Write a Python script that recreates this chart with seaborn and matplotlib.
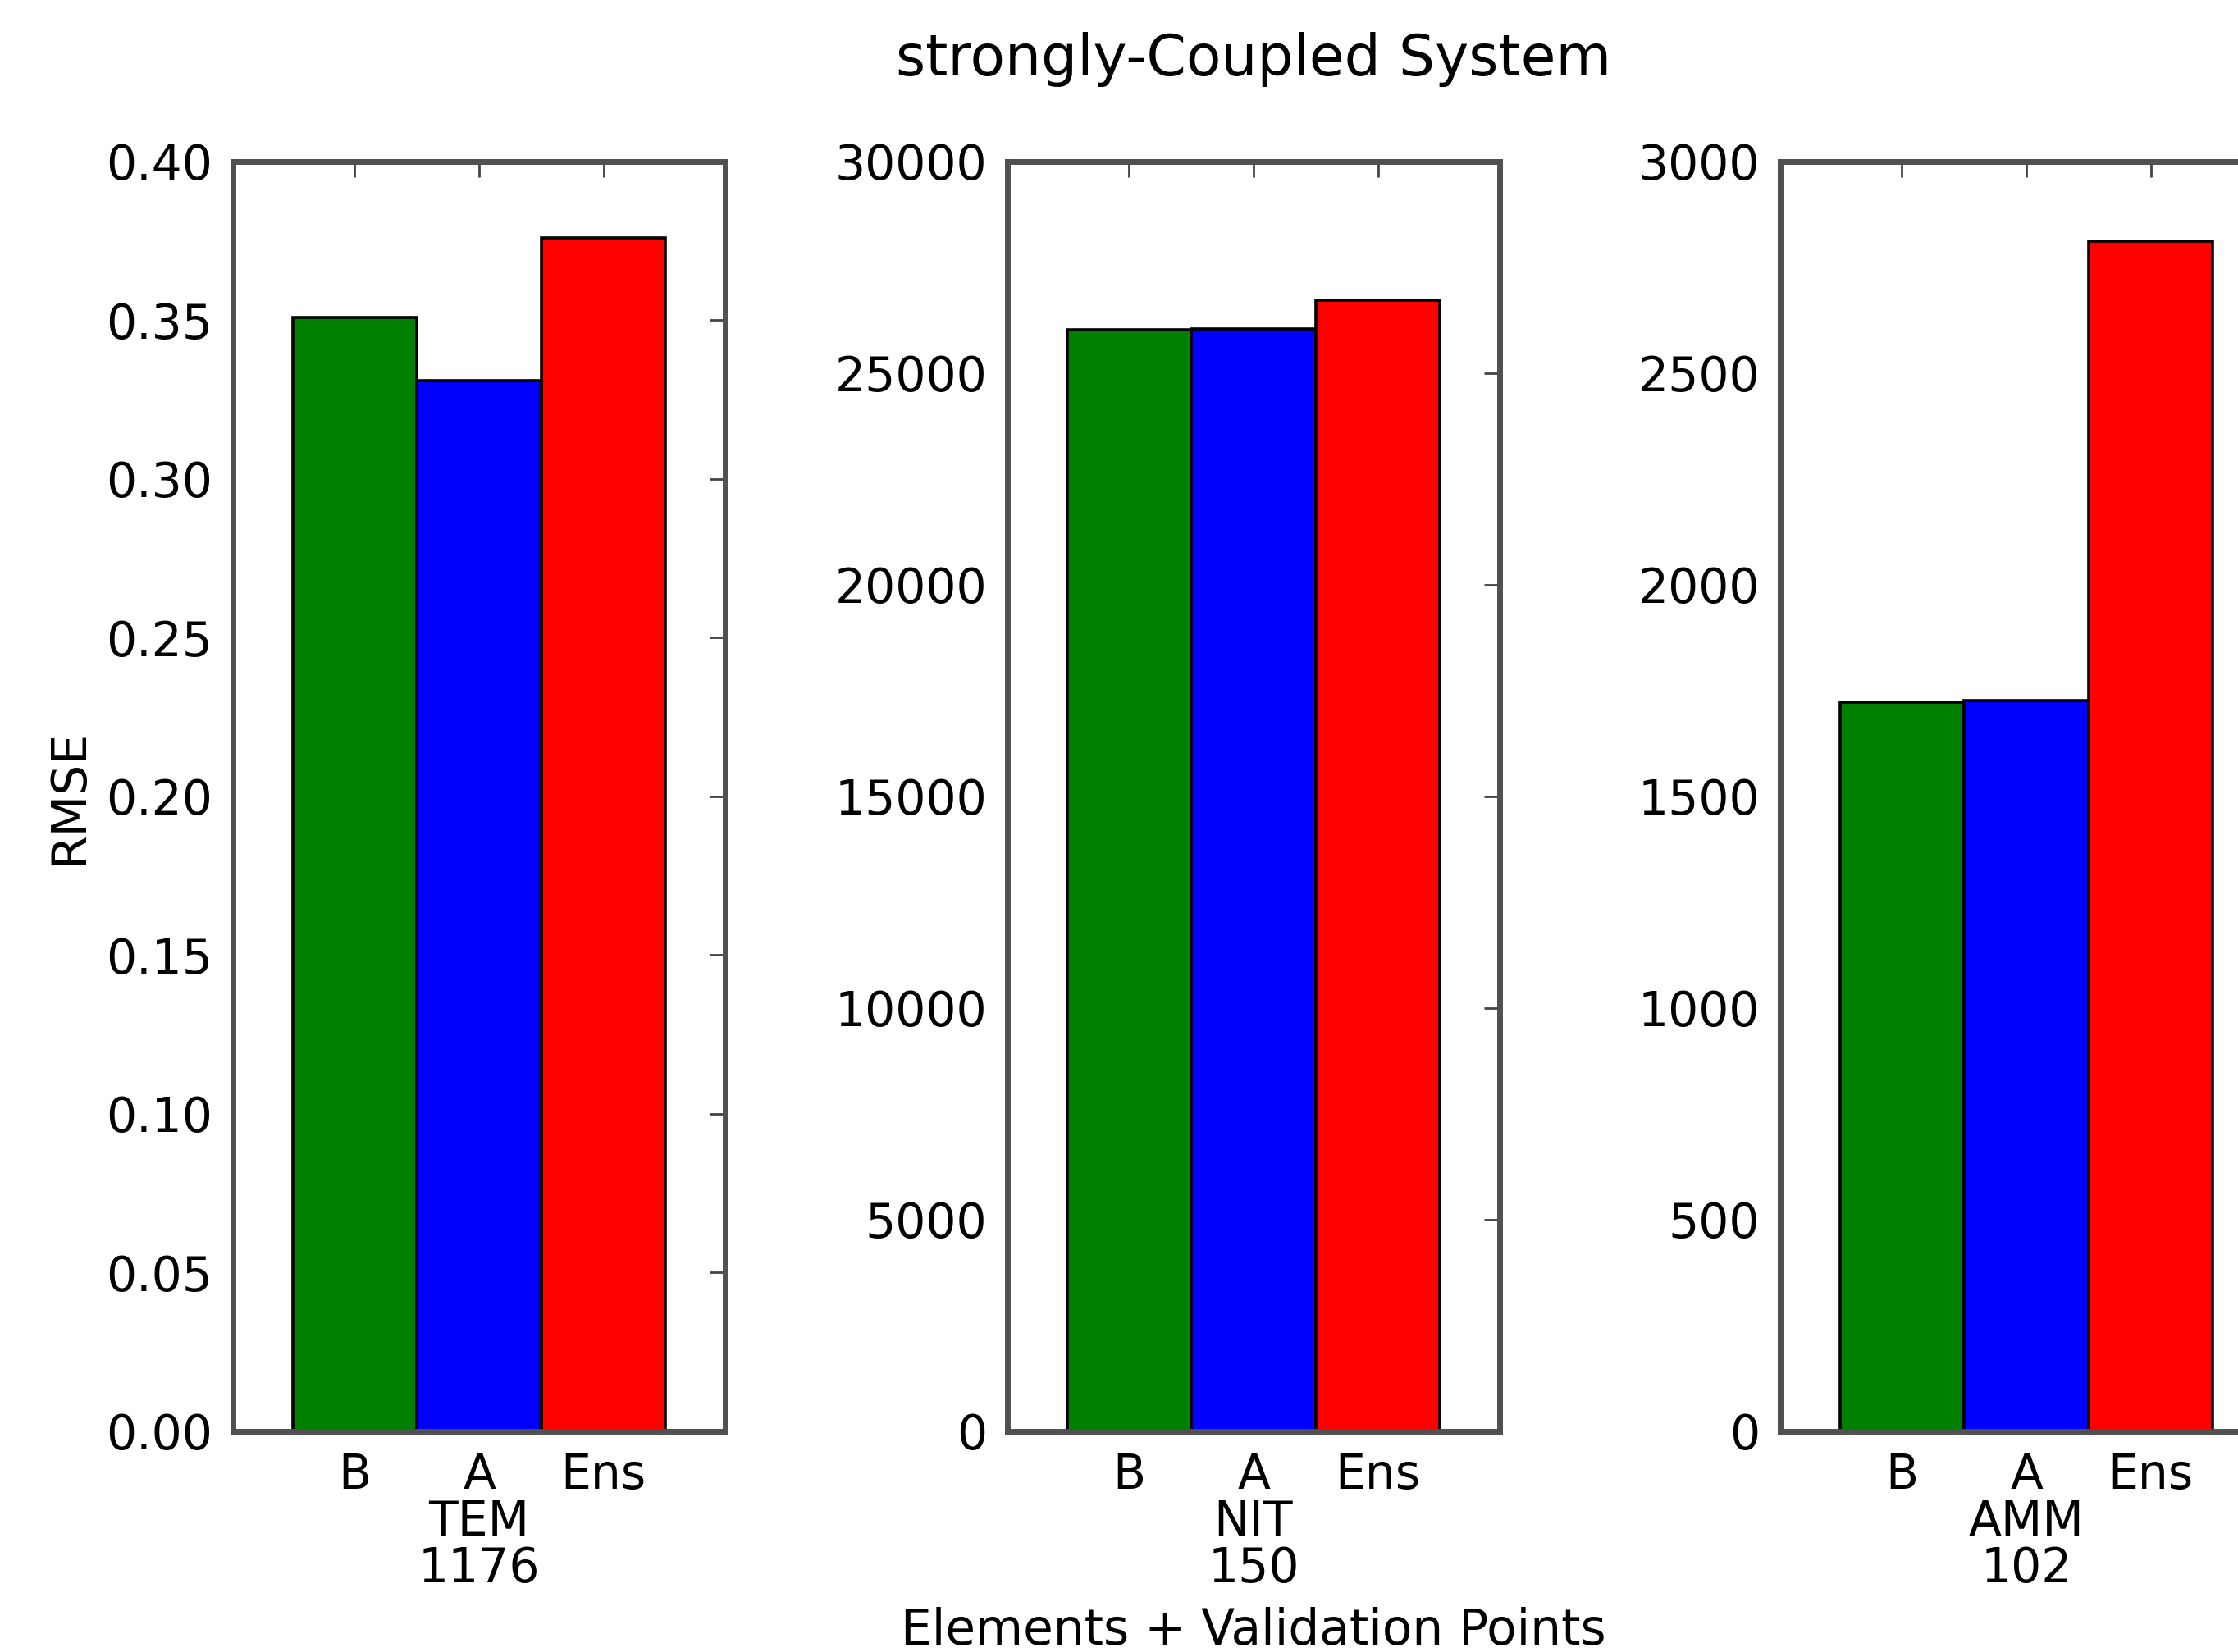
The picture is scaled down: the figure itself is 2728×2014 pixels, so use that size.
import matplotlib
matplotlib.use("Agg")
import matplotlib.pyplot as plt
import seaborn as sns
import pandas as pd

# valeurs
models = ["B", "A", "Ens"]
colors = ["#008000", "#0000ff", "#ff0000"]

tem_rmse = [0.351, 0.331, 0.376]
nit_rmse = [26020, 26050, 26730]
amm_rmse = [1722, 1726, 2811]

var_names = ["TEM", "NIT", "AMM"]
n_points = [1176, 150, 102]
y_max = [0.40, 30000, 3000]
y_step = [0.05, 5000, 500]
y_fmt = ["{:.2f}", "{:.0f}", "{:.0f}"]

sns.set_style("white")
plt.rcParams["font.family"] = ["DejaVu Sans"]
plt.rcParams["font.size"] = 21
plt.rcParams["text.color"] = "black"
plt.rcParams["axes.labelcolor"] = "black"
plt.rcParams["xtick.color"] = "black"
plt.rcParams["ytick.color"] = "black"

fig = plt.figure(figsize=(13.64, 10.07), dpi=200)

lefts = [284 / 2728, 1228 / 2728, 2170 / 2728]
all_vals = [tem_rmse, nit_rmse, amm_rmse]

for i in range(3):
    ax = fig.add_axes([lefts[i], 0.1336, 600 / 2728, 0.7686])
    df = pd.DataFrame({"model": models, "rmse": all_vals[i]})
    sns.barplot(data=df, x="model", y="rmse", hue="model", palette=colors,
                width=1.0, edgecolor="black", linewidth=1.3, saturation=1,
                legend=False, ax=ax)
    ax.set_xlim(-0.98, 2.98)
    ax.set_ylim(0, y_max[i])
    ticks = [k * y_step[i] for k in range(9 if i == 0 else 7)]
    ax.set_yticks(ticks)
    ax.set_yticklabels([y_fmt[i].format(t) for t in ticks])
    ax.tick_params(direction="in", top=True, right=True, length=7, width=1,
                   color="#444444", labelcolor="black", labelsize=21, pad=9)
    for sp in ax.spines.values():
        sp.set_visible(True)
        sp.set_color("#505050")
        sp.set_linewidth(2.5)
    ax.set_xlabel(f"{var_names[i]}\n{n_points[i]}", fontsize=21,
                  linespacing=1.0, labelpad=0)
    ax.set_ylabel("RMSE" if i == 0 else "", fontsize=21, labelpad=6)

fig.suptitle("strongly-Coupled System", x=1528 / 2728, y=1 - 73 / 2014,
             va="center", fontsize=25)
fig.text(1528 / 2728, 1 - 1989 / 2014, "Elements + Validation Points",
         ha="center", va="center", fontsize=21.5)

fig.savefig("out.png", dpi=200, facecolor="white")
